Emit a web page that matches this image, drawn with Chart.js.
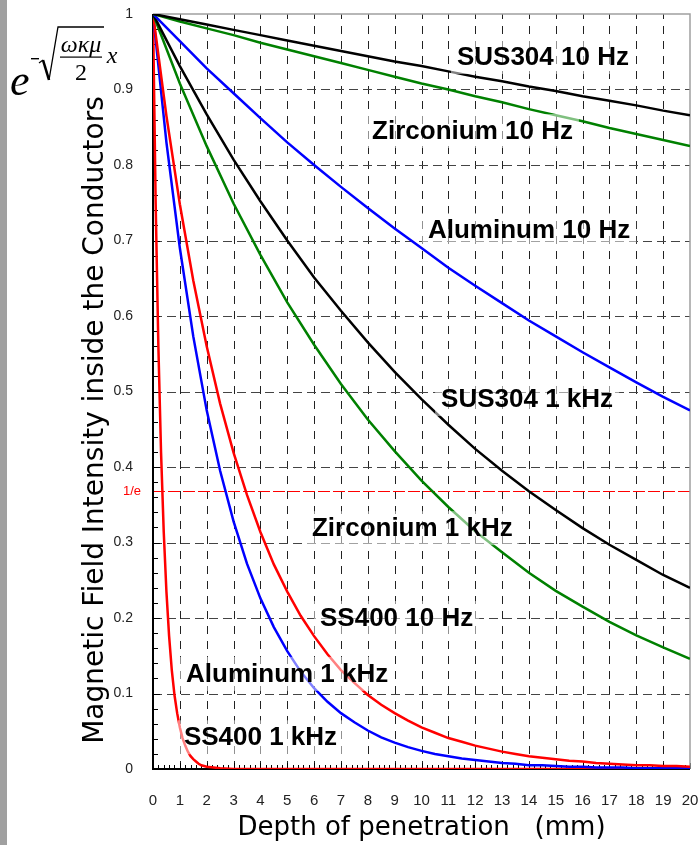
<!DOCTYPE html>
<html lang="en">
<head>
    <meta charset="UTF-8">
    <title>Magnetic Field Intensity inside the Conductors</title>
    <script src="https://cdn.jsdelivr.net/npm/chart.js"></script>
    <style>
        html, body { margin: 0; padding: 0; background: #fff; }
        canvas { display: block; }
    </style>
</head>
<body>
    <canvas id="depthChart" width="698" height="845"></canvas>

    <script>
        // Sample depths (mm)
        var depthMm = [0, 1, 2, 3, 4, 5, 6, 7, 8, 9, 10, 11, 12, 13, 14, 15, 16, 17, 18, 19, 20];
        var depthHalfMm = [0, 0.5, 1, 1.5, 2, 2.5, 3, 3.5, 4, 4.5, 5, 5.5, 6, 6.5, 7, 7.5, 8, 8.5, 9, 9.5, 10,
            10.5, 11, 11.5, 12, 12.5, 13, 13.5, 14, 14.5, 15, 15.5, 16, 16.5, 17, 17.5, 18, 18.5, 19, 19.5, 20];
        var depthFineMm = [0, 0.1, 0.2, 0.3, 0.4, 0.5, 0.6, 0.7, 0.8, 0.9, 1, 1.1, 1.2, 1.3, 1.4, 1.5, 1.6, 1.7, 1.8, 1.9, 2,
            2.5, 3, 4, 5, 6, 7, 8, 9, 10, 11, 12, 13, 14, 15, 16, 17, 18, 19, 20];

        // Field intensity (relative to the surface)
        var sus304_10Hz = [1, .993, .986, .979, .972, .965, .958, .951, .944, .937, .931, .924, .917, .911, .904, .898, .891, .885, .879, .872, .866];
        var zirconium_10Hz = [1, .990, .981, .972, .962, .953, .944, .935, .926, .917, .908, .900, .891, .883, .874, .866, .858, .849, .841, .833, .825];
        var aluminum_10Hz = [1, .964, .928, .895, .862, .830, .800, .771, .743, .716, .690, .664, .640, .617, .594, .573, .552, .532, .512, .493, .475];
        var sus304_1kHz = [1, .931, .867, .807, .752, .700, .651, .607, .565, .526, .490, .456, .424, .395, .368, .343, .319, .297, .277, .257, .240];
        var zirconium_1kHz = [1, .908, .825, .749, .681, .618, .562, .510, .463, .421, .382, .347, .315, .287, .260, .236, .215, .195, .177, .161, .146];
        var ss400_10Hz = [1, .865, .748, .647, .560, .484, .419, .363, .314, .271, .235, .203, .176, .152, .131, .114, .098, .085, .074, .064, .055,
            .048, .041, .036, .031, .027, .023, .020, .017, .015, .013, .011, .010, .008, .007, .006, .005, .005, .004, .004, .003];
        var aluminum_1kHz = [1, .830, .690, .573, .475, .395, .328, .272, .226, .188, .156, .129, .107, .089, .074, .062, .051, .042, .035, .029, .024,
            .020, .017, .014, .012, .010, .008, .007, .005, .005, .004, .003, .003, .002, .002, .002, .001, .001, .001, .001, .001];
        var ss400_1kHz = [1, .748, .560, .419, .314, .235, .176, .131, .098, .074, .055, .041, .031, .023, .017, .013, .010, .007, .005, .004, .003,
            .001, 0, 0, 0, 0, 0, 0, 0, 0, 0, 0, 0, 0, 0, 0, 0, 0, 0, 0];

        var skinLevel = 0.3679; // 1/e

        // Curve captions, placed in data units (left edge, vertical centre)
        var curveLabels = [
            { text: 'SUS304 10 Hz', x: 11.32, y: 0.943 },
            { text: 'Zirconium 10 Hz', x: 8.16, y: 0.845 },
            { text: 'Aluminum 10 Hz', x: 10.24, y: 0.714 },
            { text: 'SUS304 1 kHz', x: 10.73, y: 0.490 },
            { text: 'Zirconium 1 kHz', x: 5.92, y: 0.319 },
            { text: 'SS400 10 Hz', x: 6.22, y: 0.200 },
            { text: 'Aluminum 1 kHz', x: 1.23, y: 0.126 },
            { text: 'SS400 1 kHz', x: 1.15, y: 0.042 }
        ];

        function pairUp(xs, ys) {
            return ys.map(function (v, i) { return { x: xs[i], y: v }; });
        }

        function curve(xs, ys, color) {
            return {
                data: pairUp(xs, ys),
                borderColor: color,
                borderWidth: 2.5,
                pointRadius: 0,
                tension: 0,
                fill: false
            };
        }

        var GREEN = '#008000';
        var BLUE = '#0000ff';
        var RED = '#ff0000';
        var BLACK = '#000000';

        // Grid, ticks, frame and the 1/e reference line
        var framePlugin = {
            id: 'frame',
            beforeDraw: function (chart) {
                var ctx = chart.ctx;
                ctx.save();
                ctx.fillStyle = '#a0a0a0';
                ctx.fillRect(0, 0, 7, chart.height);
                ctx.restore();
            },
            beforeDatasetsDraw: function (chart) {
                var ctx = chart.ctx;
                var xs = chart.scales.x, ys = chart.scales.y;
                var a = chart.chartArea;
                var i, p;
                ctx.save();
                ctx.lineWidth = 1;

                // vertical dashed grid
                ctx.strokeStyle = '#222';
                ctx.setLineDash([8, 7]);
                for (i = 1; i < 20; i++) {
                    p = Math.round(xs.getPixelForValue(i)) + 0.5;
                    ctx.beginPath();
                    ctx.moveTo(p, a.bottom);
                    ctx.lineTo(p, a.top);
                    ctx.stroke();
                }
                // horizontal dashed grid
                ctx.strokeStyle = '#444';
                ctx.setLineDash([9, 5]);
                for (i = 1; i < 10; i++) {
                    p = Math.round(ys.getPixelForValue(i / 10)) + 0.5;
                    ctx.beginPath();
                    ctx.moveTo(a.left, p);
                    ctx.lineTo(a.right, p);
                    ctx.stroke();
                }
                // 1/e line
                ctx.strokeStyle = RED;
                ctx.setLineDash([12, 3]);
                p = Math.round(ys.getPixelForValue(skinLevel)) + 0.5;
                ctx.beginPath();
                ctx.moveTo(a.left, p);
                ctx.lineTo(a.right, p);
                ctx.stroke();
                ctx.setLineDash([]);

                // inward minor ticks
                ctx.strokeStyle = '#000';
                for (i = 0; i <= 100; i++) {
                    p = Math.round(xs.getPixelForValue(i / 5)) + 0.5;
                    ctx.beginPath();
                    ctx.moveTo(p, a.bottom);
                    ctx.lineTo(p, a.bottom - (i % 5 === 0 ? 6 : 4));
                    ctx.stroke();
                }
                for (i = 0; i <= 50; i++) {
                    p = Math.round(ys.getPixelForValue(i / 50)) + 0.5;
                    ctx.beginPath();
                    ctx.moveTo(a.left, p);
                    ctx.lineTo(a.left + (i % 5 === 0 ? 7 : 5), p);
                    ctx.stroke();
                }

                // frame: grey top/right, black left/bottom
                ctx.strokeStyle = '#a0a0a0';
                ctx.lineWidth = 1.5;
                ctx.beginPath();
                ctx.moveTo(a.left, a.top);
                ctx.lineTo(a.right, a.top);
                ctx.lineTo(a.right, a.bottom);
                ctx.stroke();
                ctx.strokeStyle = '#000';
                ctx.lineWidth = 2;
                ctx.beginPath();
                ctx.moveTo(a.left, a.top);
                ctx.lineTo(a.left, a.bottom);
                ctx.lineTo(a.right, a.bottom);
                ctx.stroke();
                ctx.restore();
            },
            afterDatasetsDraw: function (chart) {
                var ctx = chart.ctx;
                var xs = chart.scales.x, ys = chart.scales.y;
                ctx.save();

                // curve captions on a translucent white box
                ctx.font = 'bold 26px "Liberation Sans", Arial, sans-serif';
                ctx.textBaseline = 'middle';
                ctx.textAlign = 'left';
                curveLabels.forEach(function (lb) {
                    var px = xs.getPixelForValue(lb.x);
                    var py = ys.getPixelForValue(lb.y);
                    var w = ctx.measureText(lb.text).width;
                    ctx.fillStyle = 'rgba(255,255,255,0.5)';
                    ctx.fillRect(px - 6, py - 17, w + 12, 34);
                    ctx.fillStyle = '#000';
                    ctx.fillText(lb.text, px, py + 1);
                });

                // 1/e caption next to the y axis
                ctx.font = '13px "Liberation Sans", Arial, sans-serif';
                ctx.fillStyle = RED;
                ctx.textAlign = 'right';
                ctx.fillText('1/e', 141, ys.getPixelForValue(skinLevel));

                // y axis title
                ctx.save();
                ctx.translate(96, 420);
                ctx.rotate(-Math.PI / 2);
                ctx.font = '28px "DejaVu Sans", sans-serif';
                ctx.fillStyle = '#000';
                ctx.textAlign = 'center';
                ctx.fillText('Magnetic Field Intensity inside the Conductors', 0, 0);
                ctx.restore();

                // attenuation formula, top left
                ctx.fillStyle = '#000';
                ctx.strokeStyle = '#000';
                ctx.textBaseline = 'alphabetic';
                ctx.textAlign = 'left';
                ctx.font = 'italic 44px "Liberation Serif", serif';
                ctx.fillText('e', 10, 95);
                ctx.fillRect(31, 58, 8, 1.4);
                ctx.lineWidth = 1.2;
                ctx.beginPath();
                ctx.moveTo(39, 63);
                ctx.lineTo(43, 60);
                ctx.stroke();
                ctx.lineWidth = 2.6;
                ctx.beginPath();
                ctx.moveTo(43, 60);
                ctx.lineTo(49, 80);
                ctx.stroke();
                ctx.lineWidth = 1.3;
                ctx.beginPath();
                ctx.moveTo(49, 80);
                ctx.lineTo(58, 27);
                ctx.lineTo(104, 27);
                ctx.stroke();
                ctx.textAlign = 'center';
                ctx.font = 'italic 24px "Liberation Serif", serif';
                ctx.fillText('\u03c9\u03ba\u03bc', 81, 52);
                ctx.fillRect(60, 56.5, 42, 1.2);
                ctx.font = '24px "Liberation Serif", serif';
                ctx.fillText('2', 81, 80);
                ctx.font = 'italic 24px "Liberation Serif", serif';
                ctx.fillText('x', 112, 63);
                ctx.restore();
            }
        };

        new Chart(document.getElementById('depthChart'), {
            type: 'line',
            data: {
                datasets: [
                    curve(depthMm, sus304_10Hz, BLACK),
                    curve(depthMm, zirconium_10Hz, GREEN),
                    curve(depthMm, aluminum_10Hz, BLUE),
                    curve(depthMm, sus304_1kHz, BLACK),
                    curve(depthMm, zirconium_1kHz, GREEN),
                    curve(depthHalfMm, ss400_10Hz, RED),
                    curve(depthHalfMm, aluminum_1kHz, BLUE),
                    curve(depthFineMm, ss400_1kHz, RED)
                ]
            },
            options: {
                responsive: false,
                devicePixelRatio: 1,
                animation: false,
                layout: { padding: { top: 14, right: 8, left: 0, bottom: 0 } },
                plugins: {
                    legend: { display: false },
                    tooltip: { enabled: false }
                },
                scales: {
                    x: {
                        type: 'linear',
                        min: 0,
                        max: 20,
                        grid: { display: false },
                        border: { display: false },
                        ticks: {
                            stepSize: 1,
                            padding: 15,
                            color: '#222',
                            font: { family: '"Liberation Sans", Arial', size: 15 }
                        },
                        title: {
                            display: true,
                            text: 'Depth of penetration   (mm)',
                            color: '#000',
                            font: { family: '"DejaVu Sans"', size: 26 },
                            padding: { top: 0, bottom: 1 }
                        },
                        afterFit: function (scale) {
                            scale.height = 76;
                            scale.paddingLeft = 0;
                            scale.paddingRight = 0;
                        }
                    },
                    y: {
                        min: 0,
                        max: 1,
                        grid: { display: false },
                        border: { display: false },
                        ticks: {
                            stepSize: 0.1,
                            padding: 12,
                            color: '#222',
                            font: { family: '"Liberation Sans", Arial', size: 14 },
                            callback: function (v) { return String(+v.toFixed(1)); }
                        },
                        afterFit: function (scale) {
                            scale.width = 153;
                            scale.paddingTop = 0;
                            scale.paddingBottom = 0;
                        }
                    }
                }
            },
            plugins: [framePlugin]
        });
    </script>
</body>
</html>
